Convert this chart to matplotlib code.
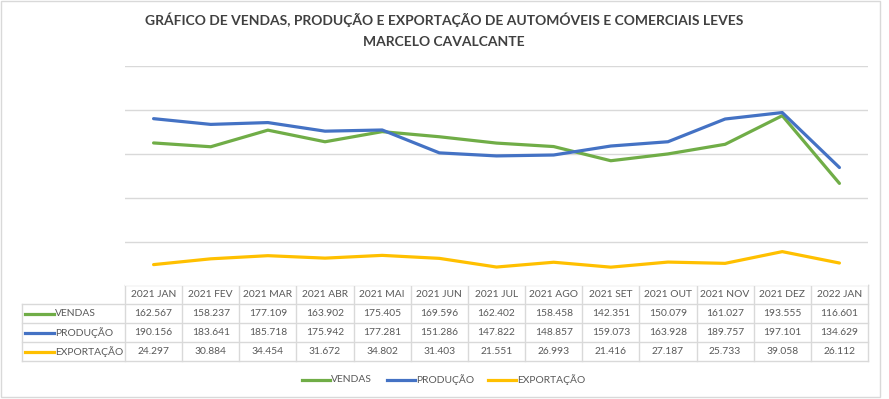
import matplotlib
matplotlib.use("Agg")
import matplotlib.pyplot as plt

plt.rcParams['font.family'] = ['Lato', 'DejaVu Sans']

# dados
meses = ["2021 JAN", "2021 FEV", "2021 MAR", "2021 ABR", "2021 MAI", "2021 JUN", "2021 JUL",
         "2021 AGO", "2021 SET", "2021 OUT", "2021 NOV", "2021 DEZ", "2022 JAN"]
vendas = [162567, 158237, 177109, 163902, 175405, 169596, 162402, 158458, 142351, 150079, 161027, 193555, 116601]
producao = [190156, 183641, 185718, 175942, 177281, 151286, 147822, 148857, 159073, 163928, 189757, 197101, 134629]
exportacao = [24297, 30884, 34454, 31672, 34802, 31403, 21551, 26993, 21416, 27187, 25733, 39058, 26112]

series = [("VENDAS", vendas, "#70AD47"),
          ("PRODUÇÃO", producao, "#4472C4"),
          ("EXPORTAÇÃO", exportacao, "#FFC000")]

W, H = 889, 399
txt = "#595959"
grid = "#D9D9D9"

fig = plt.figure(figsize=(W / 100, H / 100), dpi=100)

# camada em pixels para tabela, legenda e moldura
over = fig.add_axes([0, 0, 1, 1])
over.set_xlim(0, W)
over.set_ylim(H, 0)
over.axis("off")
over.add_patch(plt.Rectangle((1, 1), 879, 396, fill=False, edgecolor=grid, lw=1))

# area do grafico
x0, x1, ytop, ybot = 125, 868, 66, 286
ax = fig.add_axes([x0 / W, 1 - ybot / H, (x1 - x0) / W, (ybot - ytop) / H])
n = len(meses)
ax.set_xlim(-0.5, n - 0.5)
ax.set_ylim(0, 250000)
ax.set_yticks(range(0, 250001, 50000))
ax.grid(axis="y", color=grid, lw=1)
ax.set_axisbelow(True)
ax.tick_params(left=False, bottom=False, labelleft=False, labelbottom=False)
for s in ax.spines.values():
    s.set_visible(False)
for nome, vals, cor in series:
    ax.plot(range(n), vals, color=cor, lw=2.3, solid_capstyle="round")

# titulo
over.text(444, 20, "GRÁFICO DE VENDAS, PRODUÇÃO E EXPORTAÇÃO DE AUTOMÓVEIS E COMERCIAIS LEVES",
          ha="center", va="center", fontsize=10, fontweight="bold", color="#404040")
over.text(444, 42, "MARCELO CAVALCANTE", ha="center", va="center",
          fontsize=10, fontweight="bold", color="#404040")

# tabela de dados
cw = (x1 - x0) / n
rows = [285, 304, 323, 342, 361]
lab_x = 22
lw_t = 1
# linhas horizontais
over.plot([x0, x1], [rows[0], rows[0]], color=grid, lw=lw_t)
for r in rows[1:]:
    over.plot([lab_x, x1], [r, r], color=grid, lw=lw_t)
# linhas verticais
over.plot([lab_x, lab_x], [rows[1], rows[-1]], color=grid, lw=lw_t)
for i in range(n + 1):
    xx = x0 + i * cw
    over.plot([xx, xx], [rows[0], rows[-1]], color=grid, lw=lw_t)

fs = 7.4
for i, m in enumerate(meses):
    over.text(x0 + (i + 0.5) * cw, (rows[0] + rows[1]) / 2, m, ha="center", va="center",
              fontsize=fs, color=txt)
for k, (nome, vals, cor) in enumerate(series):
    yc = (rows[k + 1] + rows[k + 2]) / 2
    over.plot([25, 54], [yc, yc], color=cor, lw=2.3)
    over.text(55, yc, nome, ha="left", va="center", fontsize=fs, color=txt)
    for i, v in enumerate(vals):
        over.text(x0 + (i + 0.5) * cw, yc, f"{v:,}".replace(",", "."), ha="center",
                  va="center", fontsize=fs, color=txt)

# legenda
leg_y = 380
leg_pos = [302, 387, 488]
for (nome, vals, cor), lx in zip(series, leg_pos):
    over.plot([lx, lx + 28], [leg_y, leg_y], color=cor, lw=2.3)
    over.text(lx + 29, leg_y, nome, ha="left", va="center", fontsize=fs, color=txt)

fig.savefig("out.png", dpi=100)
